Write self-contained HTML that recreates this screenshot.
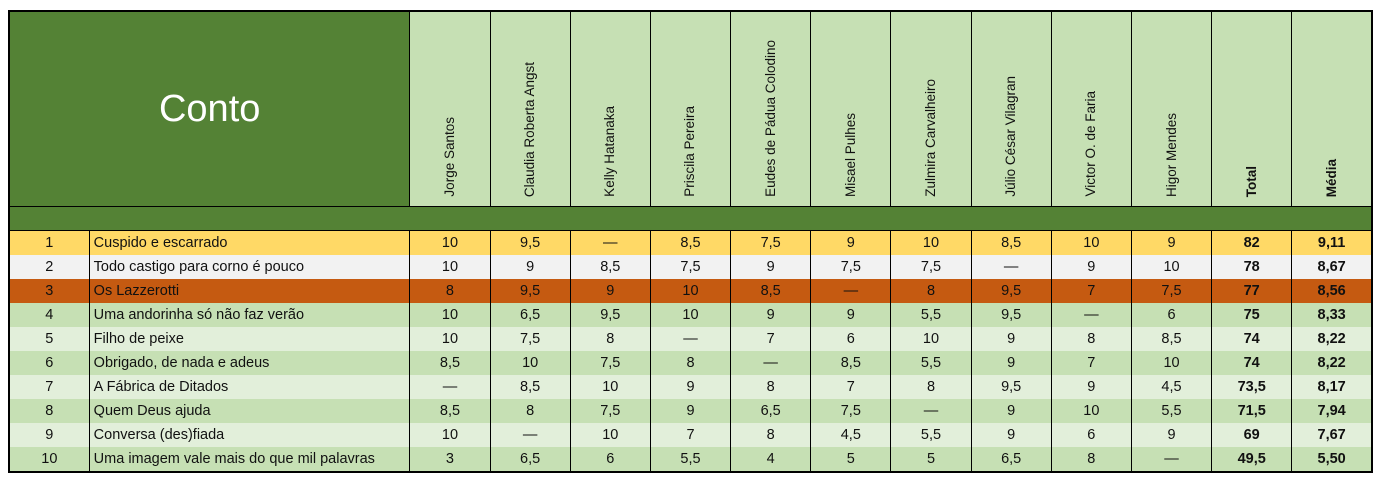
<!DOCTYPE html>
<html><head><meta charset="utf-8">
<style>
body{margin:0;width:1384px;height:480px;background:#fff;position:relative;overflow:hidden;font-family:"Liberation Sans",sans-serif;}
table{position:absolute;left:8px;top:10px;border-collapse:collapse;table-layout:fixed;width:1365px;border:2px solid #000;}
td{border-left:1px solid #000;border-right:1px solid #000;padding:0;height:24px;font-size:14.5px;text-align:center;color:#111;white-space:nowrap;overflow:hidden;}
td.n{text-align:left;padding-left:4px;}
tr.h td{height:194px;background:#c6e0b4;border-bottom:1px solid #000;vertical-align:bottom;}
tr.h td.conto{background:#548235;color:#fff;font-size:38px;vertical-align:middle;text-align:center;}
.v{writing-mode:vertical-rl;transform:rotate(180deg);display:inline-block;font-size:13.5px;margin-bottom:5px;line-height:16px;}
.b{font-weight:bold;}
tr.g td{background:#548235;height:23px;border-bottom:1px solid #000;border-left:none;border-right:none;}
tr.r1 td{background:#ffd966;}
tr.r2 td{background:#f2f2f2;}
tr.r3 td{background:#c55a11;}
tr.d td{background:#c6e0b4;}
tr.l td{background:#e2efda;}
td.t{font-weight:bold;}
</style></head><body>
<table>
<colgroup><col style="width:80px"><col style="width:320px"><col span="12" style="width:80px"></colgroup>
<tr class="h">
<td class="conto" colspan="2">Conto</td>
<td><span class="v">Jorge Santos</span></td>
<td><span class="v">Claudia Roberta Angst</span></td>
<td><span class="v">Kelly Hatanaka</span></td>
<td><span class="v">Priscila Pereira</span></td>
<td><span class="v">Eudes de Pádua Colodino</span></td>
<td><span class="v">Misael Pulhes</span></td>
<td><span class="v">Zulmira Carvalheiro</span></td>
<td><span class="v">Júlio César Vilagran</span></td>
<td><span class="v">Victor O. de Faria</span></td>
<td><span class="v">Higor Mendes</span></td>
<td><span class="v b">Total</span></td>
<td><span class="v b">Média</span></td>
</tr>
<tr class="g"><td colspan="14"></td></tr>
<tr class="r1"><td>1</td><td class="n">Cuspido e escarrado</td><td>10</td><td>9,5</td><td>—</td><td>8,5</td><td>7,5</td><td>9</td><td>10</td><td>8,5</td><td>10</td><td>9</td><td class="t">82</td><td class="t">9,11</td></tr>
<tr class="r2"><td>2</td><td class="n">Todo castigo para corno é pouco</td><td>10</td><td>9</td><td>8,5</td><td>7,5</td><td>9</td><td>7,5</td><td>7,5</td><td>—</td><td>9</td><td>10</td><td class="t">78</td><td class="t">8,67</td></tr>
<tr class="r3"><td>3</td><td class="n">Os Lazzerotti</td><td>8</td><td>9,5</td><td>9</td><td>10</td><td>8,5</td><td>—</td><td>8</td><td>9,5</td><td>7</td><td>7,5</td><td class="t">77</td><td class="t">8,56</td></tr>
<tr class="d"><td>4</td><td class="n">Uma andorinha só não faz verão</td><td>10</td><td>6,5</td><td>9,5</td><td>10</td><td>9</td><td>9</td><td>5,5</td><td>9,5</td><td>—</td><td>6</td><td class="t">75</td><td class="t">8,33</td></tr>
<tr class="l"><td>5</td><td class="n">Filho de peixe</td><td>10</td><td>7,5</td><td>8</td><td>—</td><td>7</td><td>6</td><td>10</td><td>9</td><td>8</td><td>8,5</td><td class="t">74</td><td class="t">8,22</td></tr>
<tr class="d"><td>6</td><td class="n">Obrigado, de nada e adeus</td><td>8,5</td><td>10</td><td>7,5</td><td>8</td><td>—</td><td>8,5</td><td>5,5</td><td>9</td><td>7</td><td>10</td><td class="t">74</td><td class="t">8,22</td></tr>
<tr class="l"><td>7</td><td class="n">A Fábrica de Ditados</td><td>—</td><td>8,5</td><td>10</td><td>9</td><td>8</td><td>7</td><td>8</td><td>9,5</td><td>9</td><td>4,5</td><td class="t">73,5</td><td class="t">8,17</td></tr>
<tr class="d"><td>8</td><td class="n">Quem Deus ajuda</td><td>8,5</td><td>8</td><td>7,5</td><td>9</td><td>6,5</td><td>7,5</td><td>—</td><td>9</td><td>10</td><td>5,5</td><td class="t">71,5</td><td class="t">7,94</td></tr>
<tr class="l"><td>9</td><td class="n">Conversa (des)fiada</td><td>10</td><td>—</td><td>10</td><td>7</td><td>8</td><td>4,5</td><td>5,5</td><td>9</td><td>6</td><td>9</td><td class="t">69</td><td class="t">7,67</td></tr>
<tr class="d"><td>10</td><td class="n">Uma imagem vale mais do que mil palavras</td><td>3</td><td>6,5</td><td>6</td><td>5,5</td><td>4</td><td>5</td><td>5</td><td>6,5</td><td>8</td><td>—</td><td class="t">49,5</td><td class="t">5,50</td></tr>
</table>
</body></html>
